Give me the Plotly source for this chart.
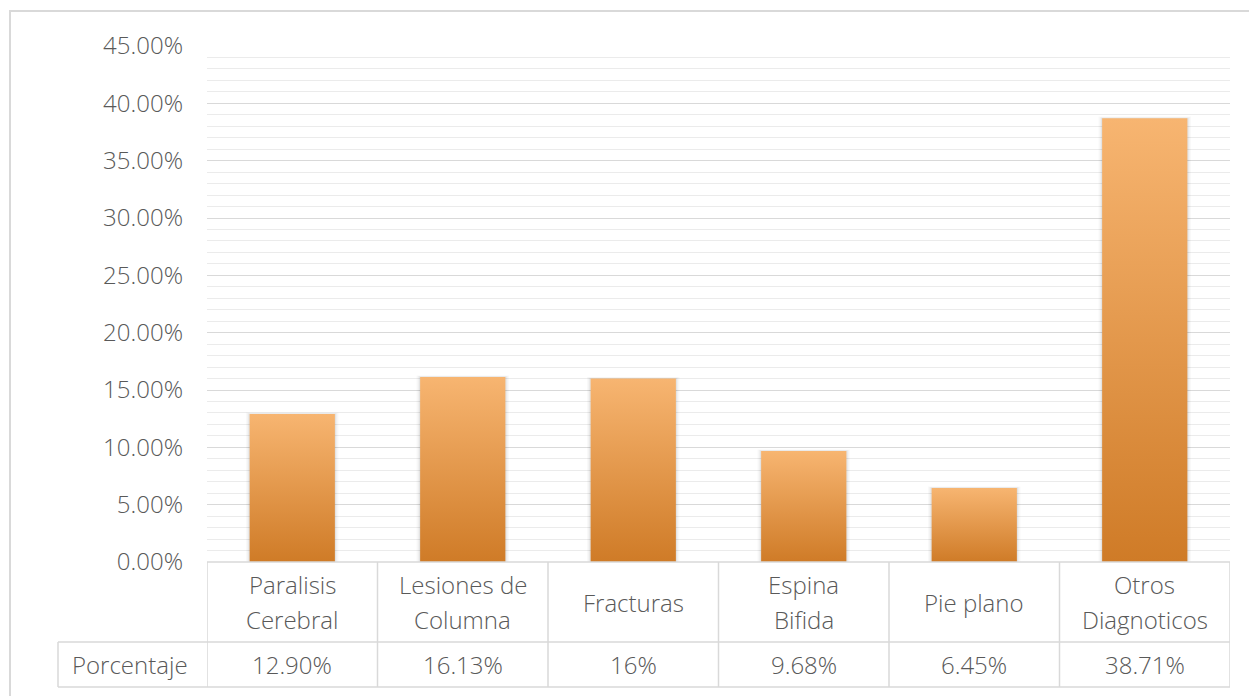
import plotly.graph_objects as go

# Diagnósticos y porcentajes
categories = ["Paralisis Cerebral", "Lesiones de Columna", "Fracturas",
              "Espina Bifida", "Pie plano", "Otros Diagnoticos"]
category_lines = [["Paralisis", "Cerebral"], ["Lesiones de", "Columna"], ["Fracturas"],
                  ["Espina", "Bifida"], ["Pie plano"], ["Otros", "Diagnoticos"]]
values = [12.90, 16.13, 16, 9.68, 6.45, 38.71]
value_labels = ["12.90%", "16.13%", "16%", "9.68%", "6.45%", "38.71%"]
series_name = "Porcentaje"
y_ticks = [0, 5, 10, 15, 20, 25, 30, 35, 40, 45]
y_tick_labels = ["0.00%", "5.00%", "10.00%", "15.00%", "20.00%", "25.00%",
                 "30.00%", "35.00%", "40.00%", "45.00%"]

FONT = "Open Sans"
WEIGHT = 300
SIZE = 24
TXT = "#595959"
GRID = "#D9D9D9"
LINE = "#D9D9D9"
TOP = "#F7B571"
BOTTOM = "#CF7B27"

W, H = 1249, 696
ML, MR, MT, MB = 207, 19, 46, 134
PW, PH = W - ML - MR, H - MT - MB


def px_to_paper_x(px):
    return (px - ML) / PW


def px_to_paper_y(py):
    return (H - MB - py) / PH


def tfont():
    return dict(family=FONT, size=SIZE, color=TXT, weight=WEIGHT)


half = 0.25
fig = go.Figure()

# soft shadow around each column
for i, v in enumerate(values):
    for k, a in [(0.022, 0.025), (0.014, 0.035), (0.007, 0.05)]:
        fig.add_trace(go.Scatter(
            x=[i - half - k, i + half + k, i + half + k, i - half - k, i - half - k],
            y=[0, 0, v + k * 6, v + k * 6, 0],
            mode="lines", line=dict(width=0), fill="toself",
            fillcolor=f"rgba(0,0,0,{a})", hoverinfo="skip", showlegend=False))

# columns with vertical gradient
for i, (c, v) in enumerate(zip(categories, values)):
    fig.add_trace(go.Scatter(
        x=[i - half, i + half, i + half, i - half, i - half],
        y=[0, 0, v, v, 0],
        mode="lines", line=dict(width=0), fill="toself",
        fillgradient=dict(type="vertical", colorscale=[[0, BOTTOM], [1, TOP]],
                          start=0, stop=v),
        name=c, hovertemplate=f"{c}: %{{y:.2f}}%<extra></extra>", showlegend=False))

shapes = []
annotations = []

# outer chart frame
shapes.append(dict(type="rect", xref="paper", yref="paper",
                   x0=px_to_paper_x(10), x1=px_to_paper_x(W + 5),
                   y0=px_to_paper_y(H + 10), y1=px_to_paper_y(11),
                   line=dict(color="#D9D9D9", width=2), fillcolor="rgba(0,0,0,0)", layer="below"))

# data table below the axis
row1_bottom = px_to_paper_y(642)
row2_bottom = px_to_paper_y(687)
y_axis0 = px_to_paper_y(562)
label_left = px_to_paper_x(58)

shapes.append(dict(type="line", xref="paper", yref="paper", x0=0, x1=1,
                   y0=y_axis0, y1=y_axis0, line=dict(color=LINE, width=1.5)))
shapes.append(dict(type="line", xref="paper", yref="paper", x0=label_left, x1=1,
                   y0=row1_bottom, y1=row1_bottom, line=dict(color=LINE, width=1.5)))
shapes.append(dict(type="line", xref="paper", yref="paper", x0=label_left, x1=1,
                   y0=row2_bottom, y1=row2_bottom, line=dict(color=LINE, width=1.5)))
shapes.append(dict(type="line", xref="paper", yref="paper", x0=label_left, x1=label_left,
                   y0=row2_bottom, y1=row1_bottom, line=dict(color=LINE, width=1.5)))
for b in range(len(categories) + 1):
    xb = b - 0.5
    shapes.append(dict(type="line", xref="x", yref="paper", x0=xb, x1=xb,
                       y0=row2_bottom, y1=y_axis0, line=dict(color=LINE, width=1.5)))

for i, lines in enumerate(category_lines):
    if len(lines) == 1:
        ys = [602]
    else:
        ys = [584, 619]
    for ln, yy in zip(lines, ys):
        annotations.append(dict(text=ln, x=i, xref="x", y=px_to_paper_y(yy), yref="paper",
                                showarrow=False, xanchor="center", yanchor="middle",
                                font=tfont()))
    annotations.append(dict(text=value_labels[i], x=i, xref="x", y=px_to_paper_y(664),
                            yref="paper", showarrow=False, xanchor="center", yanchor="middle",
                            font=tfont()))

annotations.append(dict(text=series_name, x=px_to_paper_x(130), xref="paper",
                        y=px_to_paper_y(664), yref="paper", showarrow=False,
                        xanchor="center", yanchor="middle", font=tfont()))

fig.update_layout(
    width=W, height=H,
    margin=dict(l=ML, r=MR, t=MT, b=MB),
    paper_bgcolor="white", plot_bgcolor="white",
    font=tfont(),
    xaxis=dict(range=[-0.5, len(categories) - 0.5], showticklabels=False, showgrid=False,
               zeroline=False, showline=False, fixedrange=True),
    yaxis=dict(range=[0, 45], tickmode="array", tickvals=y_ticks, ticktext=y_tick_labels,
               showgrid=True, gridcolor=GRID, gridwidth=1, zeroline=False, showline=False,
               ticks="", ticklabelstandoff=23, tickfont=tfont(),
               minor=dict(dtick=1, showgrid=True, gridcolor="#EBEBEB", gridwidth=1),
               fixedrange=True),
    shapes=shapes, annotations=annotations,
    showlegend=False,
)

fig.write_html("out.html")
